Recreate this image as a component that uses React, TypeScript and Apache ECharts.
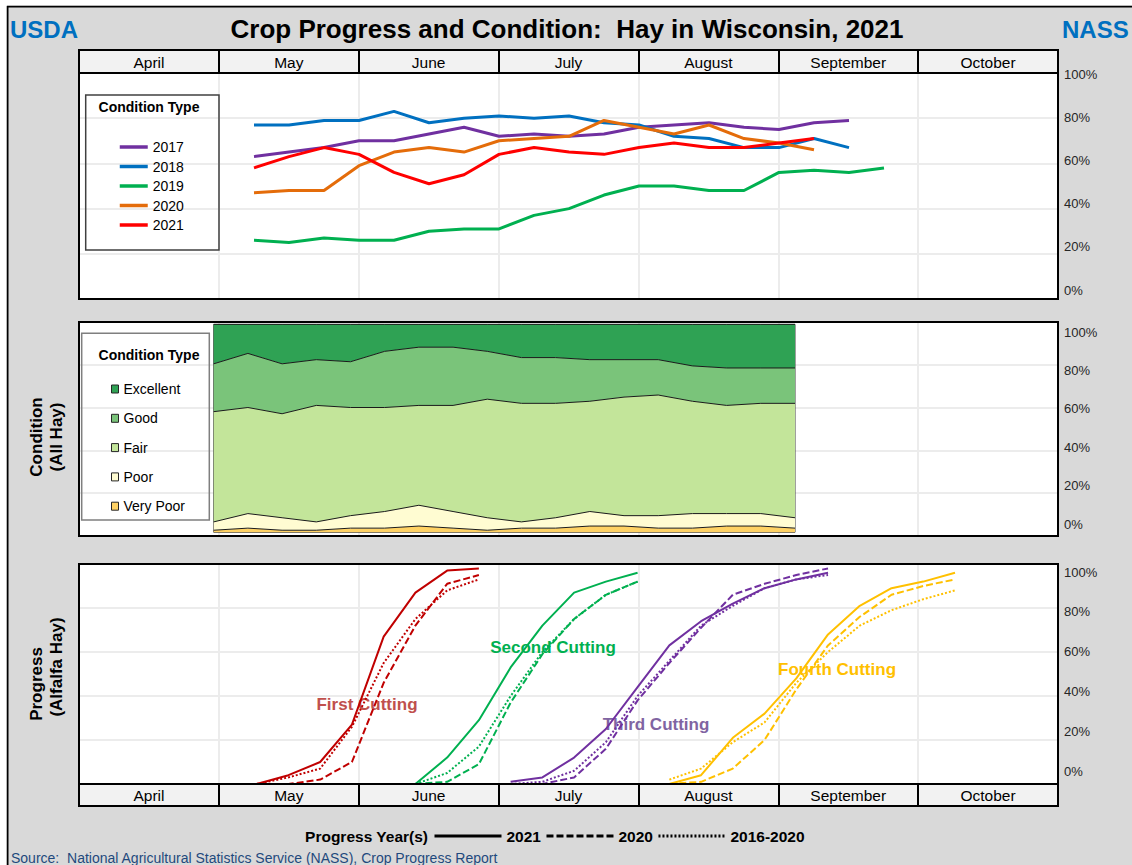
import React, { useEffect, useRef } from 'react';
import * as echarts from 'echarts';

const FONT = "'Liberation Sans', Arial, Helvetica, sans-serif";

const months = ['April', 'May', 'June', 'July', 'August', 'September', 'October'];

// ---- Top panel: condition (good + excellent) by year ----
const conditionWeeks = ['May 9', 'May 16', 'May 23', 'May 30', 'Jun 6', 'Jun 13', 'Jun 20', 'Jun 27', 'Jul 4', 'Jul 11', 'Jul 18', 'Jul 25', 'Aug 1', 'Aug 8', 'Aug 15', 'Aug 22', 'Aug 29', 'Sep 5', 'Sep 12'];
const conditionYears = ['2017', '2018', '2019', '2020', '2021'];
const condition2017 = [63, 65, 67, 70, 70, 73, 76, 72, 73, 72, 73, 76, 77, 78, 76, 75, 78, 79];
const condition2018 = [77, 77, 79, 79, 83, 78, 80, 81, 80, 81, 78, 77, 72, 71, 67, 67, 71, 67];
const condition2019 = [26, 25, 27, 26, 26, 30, 31, 31, 37, 40, 46, 50, 50, 48, 48, 56, 57, 56, 58];
const condition2020 = [47, 48, 48, 59, 65, 67, 65, 70, 71, 72, 79, 76, 73, 77, 71, 69, 66];
const condition2021 = [58, 63, 67, 64, 56, 51, 55, 64, 67, 65, 64, 67, 69, 67, 67, 69, 71];
const conditionColors = ['#7030a0', '#0070c0', '#00b050', '#e46c0a', '#ff0000'];

// ---- Middle panel: 2021 condition distribution (All Hay) ----
const hayWeeks = ['May 9', 'May 16', 'May 23', 'May 30', 'Jun 6', 'Jun 13', 'Jun 20', 'Jun 27', 'Jul 4', 'Jul 11', 'Jul 18', 'Jul 25', 'Aug 1', 'Aug 8', 'Aug 15', 'Aug 22', 'Aug 29', 'Sep 5'];
const conditionTypes = ['Excellent', 'Good', 'Fair', 'Poor', 'Very Poor'];
const veryPoor = [1, 2, 1, 1, 2, 2, 3, 2, 1, 2, 2, 3, 3, 2, 2, 3, 3, 2];
const poor = [4, 7, 6, 4, 6, 8, 10, 8, 6, 3, 5, 7, 5, 6, 7, 6, 6, 5];
const fair = [53, 51, 50, 56, 52, 50, 48, 51, 57, 57, 55, 53, 57, 58, 54, 52, 53, 55];
const good = [23, 26, 24, 22, 22, 27, 28, 28, 23, 22, 22, 20, 18, 17, 17, 18, 17, 17];
const excellent = [19, 14, 19, 17, 18, 13, 11, 11, 13, 16, 16, 17, 17, 17, 20, 21, 21, 21];
const conditionTypeColors = ['#2fa254', '#7ac47a', '#c3e59a', '#fffcd2', '#ffd264'];

// ---- Bottom panel: alfalfa cutting progress ----
const progressWeeks = ['May 9', 'May 16', 'May 23', 'May 30', 'Jun 6', 'Jun 13', 'Jun 20', 'Jun 27', 'Jul 4', 'Jul 11', 'Jul 18', 'Jul 25', 'Aug 1', 'Aug 8', 'Aug 15', 'Aug 22', 'Aug 29', 'Sep 5', 'Sep 12', 'Sep 19', 'Sep 26', 'Oct 3', 'Oct 10'];
const cuttingNames = ['First Cutting', 'Second Cutting', 'Third Cutting', 'Fourth Cutting'];
const cuttingStartWeeks = ['May 9', 'Jun 13', 'Jul 4', 'Aug 8'];
const cuttingColors = ['#c00000', '#00b050', '#7030a0', '#ffc000'];
const cuttingLabelColors = ['#c0504d', '#00b050', '#8064a2', '#ffc000'];
const first2021 = [0, 4, 10, 27, 67, 87, 97, 98];
const first2020 = [0, 0, 2, 10, 46, 72, 91, 95];
const firstAvg = [0, 3, 7, 26, 55, 75, 88, 93];
const second2021 = [0, 12, 29, 53, 72, 87, 92, 96];
const second2020 = [0, 1, 9, 37, 59, 75, 86, 92];
const secondAvg = [0, 5, 17, 40, 60, 75, 86, 92];
const third2021 = [1, 3, 12, 25, 44, 63, 74, 82, 89, 93, 96];
const third2020 = [0, 0, 3, 16, 38, 55, 71, 86, 91, 95, 98];
const thirdAvg = [0, 1, 6, 19, 40, 56, 72, 81, 89, 93, 95];
const fourth2021 = [0, 4, 21, 32, 48, 68, 81, 89, 92, 96];
const fourth2020 = [0, 1, 7, 20, 43, 63, 76, 86, 90, 93];
const fourthAvg = [2, 7, 19, 28, 46, 60, 72, 79, 84, 88];
const progressYears = ['2021', '2020', '2016-2020'];

function buildOption(): any {
  const conditionSeriesData = [condition2017, condition2018, condition2019, condition2020, condition2021];
  const areaData = [excellent, good, fair, poor, veryPoor];
  const progressTable = [
    [first2021, first2020, firstAvg],
    [second2021, second2020, secondAvg],
    [third2021, third2020, thirdAvg],
    [fourth2021, fourth2020, fourthAvg],
  ];
  const dashTypes: any[] = ['solid', [7, 3], [2, 2]];

  const pad = (start: string, values: number[]) => {
    const i0 = progressWeeks.indexOf(start);
    const arr: (number | null)[] = progressWeeks.map(() => null);
    values.forEach((v, k) => { arr[i0 + k] = v; });
    return arr;
  };

  const gridLine = { show: true, interval: 0, lineStyle: { color: '#ececec', width: 2 } };

  const monthAxis = (gi: number, labels: false | 'top' | 'bottom') => ({
    type: 'category', gridIndex: gi, data: months, boundaryGap: true,
    position: labels === 'top' ? 'top' : 'bottom',
    axisLine: { show: false }, axisTick: { show: false },
    axisLabel: { show: !!labels, interval: 0, margin: 3, fontSize: 15.5, color: '#000', fontFamily: FONT },
    splitLine: gridLine,
  });
  const headerAxis = (gi: number) => ({
    type: 'category', gridIndex: gi, data: months, boundaryGap: true,
    axisLine: { show: false }, axisTick: { show: false }, axisLabel: { show: false },
    splitLine: { show: true, interval: 0, lineStyle: { color: '#000', width: 2 } },
  });
  const gridY = (gi: number) => ({
    type: 'value', gridIndex: gi, min: 0, max: 100, interval: 20,
    axisLine: { show: false }, axisTick: { show: false }, axisLabel: { show: false },
    splitLine: { show: true, lineStyle: { color: '#ececec', width: 2 } },
  });
  const labelY = (gi: number) => ({
    type: 'value', gridIndex: gi, min: 0, max: 100, interval: 20, position: 'right',
    axisLine: { show: false }, axisTick: { show: false }, splitLine: { show: false },
    axisLabel: { formatter: '{value}%', margin: 6, fontSize: 13, color: '#262626', fontFamily: FONT },
  });
  const hiddenY = (gi: number) => ({ type: 'value', gridIndex: gi, min: 0, max: 100, show: false });
  const hiddenX = (gi: number) => ({ type: 'value', gridIndex: gi, show: false });

  const grid = [
    { left: 79, top: 73, width: 979, height: 226, show: true, backgroundColor: '#ffffff', borderWidth: 0 },
    { left: 79, top: 50, width: 979, height: 23, show: true, backgroundColor: '#f2f2f2', borderWidth: 0 },
    { left: 254, top: 73, width: 630, height: 226 },
    { left: 79, top: 74, width: 979, height: 216 },
    { left: 79, top: 322, width: 979, height: 214, show: true, backgroundColor: '#ffffff', borderWidth: 0 },
    { left: 213.7, top: 324.3, width: 581.3, height: 208, show: true, borderColor: '#404040', borderWidth: 1, backgroundColor: 'transparent', z: 3 },
    { left: 79, top: 332, width: 979, height: 192 },
    { left: 79, top: 564, width: 979, height: 220, show: true, backgroundColor: '#ffffff', borderWidth: 0 },
    { left: 79, top: 784, width: 979, height: 22, show: true, backgroundColor: '#f2f2f2', borderWidth: 0 },
    { left: 256.7, top: 564, width: 698.3, height: 220 },
    { left: 79, top: 572, width: 979, height: 199 },
  ];

  const xAxis = [
    monthAxis(0, 'top'),
    headerAxis(1),
    { type: 'category', gridIndex: 2, data: conditionWeeks, boundaryGap: false, show: false },
    hiddenX(3),
    monthAxis(4, false),
    { type: 'category', gridIndex: 5, data: hayWeeks, boundaryGap: false, show: false },
    hiddenX(6),
    monthAxis(7, 'bottom'),
    headerAxis(8),
    { type: 'category', gridIndex: 9, data: progressWeeks, boundaryGap: false, show: false },
    hiddenX(10),
  ];
  const yAxis = [
    gridY(0), { type: 'value', gridIndex: 1, show: false }, hiddenY(2), labelY(3),
    gridY(4), hiddenY(5), labelY(6),
    gridY(7), { type: 'value', gridIndex: 8, show: false }, hiddenY(9), labelY(10),
  ];

  const series: any[] = [];
  conditionYears.forEach((y, i) => {
    series.push({
      name: y, type: 'line', xAxisIndex: 2, yAxisIndex: 2, data: conditionSeriesData[i],
      symbol: 'none', color: conditionColors[i], lineStyle: { width: 3, color: conditionColors[i] },
    });
  });
  // stacked areas bottom-up: Very Poor, Poor, Fair, Good, Excellent
  for (let i = conditionTypes.length - 1; i >= 0; i--) {
    series.push({
      name: conditionTypes[i], type: 'line', stack: 'condition', xAxisIndex: 5, yAxisIndex: 5,
      data: areaData[i], symbol: 'none', color: conditionTypeColors[i],
      lineStyle: { color: '#1a1a1a', width: 1 },
      areaStyle: { color: conditionTypeColors[i], opacity: 1 },
    });
  }
  cuttingNames.forEach((c, ci) => {
    progressYears.forEach((py, pi) => {
      series.push({
        name: `${c} ${py}`, type: 'line', xAxisIndex: 9, yAxisIndex: 9,
        data: pad(cuttingStartWeeks[ci], progressTable[ci][pi]), symbol: 'none',
        color: cuttingColors[ci],
        lineStyle: { width: 2, color: cuttingColors[ci], type: dashTypes[pi] },
      });
    });
  });
  progressYears.forEach((py, pi) => {
    series.push({
      name: `Progress ${py}`, type: 'line', xAxisIndex: 9, yAxisIndex: 9, data: [],
      symbol: 'none', color: '#000', lineStyle: { width: 3, color: '#000', type: dashTypes[pi] },
    });
  });

  const legend = [
    {
      data: conditionYears, orient: 'vertical', left: 118, top: 139, padding: 0,
      itemWidth: 28, itemHeight: 14, itemGap: 3.5, selectedMode: false,
      itemStyle: { opacity: 0 }, lineStyle: { width: 3.5 },
      textStyle: { fontFamily: FONT, fontSize: 14, color: '#000', lineHeight: 16 },
    },
    {
      data: conditionTypes, orient: 'vertical', left: 111, top: 381, padding: 0,
      icon: 'rect', itemWidth: 7, itemHeight: 8, itemGap: 13.3, selectedMode: false,
      itemStyle: { borderColor: '#262626', borderWidth: 1 },
      textStyle: { fontFamily: FONT, fontSize: 14, color: '#000', lineHeight: 16 },
    },
    {
      data: progressYears.map((p) => `Progress ${p}`), orient: 'horizontal', left: 433, top: 828, padding: 0,
      itemWidth: 67, itemHeight: 14, itemGap: 4, selectedMode: false,
      formatter: (n: string) => n.replace('Progress ', ''),
      itemStyle: { opacity: 0 }, lineStyle: { width: 3 },
      textStyle: { fontFamily: FONT, fontSize: 15.5, fontWeight: 'bold', color: '#000', lineHeight: 16 },
    },
  ];

  const txt = (text: string, x: number, y: number, font: string, fill: string, align = 'center', extra: any = {}) => ({
    type: 'text', x, y, z: 60, ...extra,
    style: { text, font, fill, align, verticalAlign: 'middle' },
  });
  const frame = (x: number, y: number, w: number, h: number) => ({
    type: 'rect', z: 50, shape: { x, y, width: w, height: h },
    style: { fill: 'none', stroke: '#000', lineWidth: 2 },
  });
  const hline = (x1: number, y1: number, x2: number, y2: number) => ({
    type: 'line', z: 50, shape: { x1, y1, x2, y2 }, style: { stroke: '#000', lineWidth: 2 },
  });

  const graphic = [
    { type: 'rect', z: 100, shape: { x: 0, y: 0, width: 1132, height: 5.5 }, style: { fill: '#fff' } },
    { type: 'rect', z: 100, shape: { x: 0, y: 0, width: 6.5, height: 865 }, style: { fill: '#fff' } },
    hline(7, 6.5, 1132, 6.5),
    hline(7.5, 6, 7.5, 865),
    txt('Crop Progress and Condition:  Hay in Wisconsin, 2021', 567, 29, `bold 26px ${FONT}`, '#000'),
    txt('USDA', 10, 29, `bold 24px ${FONT}`, '#0070c0', 'left'),
    txt('NASS', 1062, 29, `bold 24px ${FONT}`, '#0070c0', 'left'),
    frame(79, 50, 979, 249), hline(79, 73, 1058, 73),
    frame(79, 322, 979, 214),
    frame(79, 564, 979, 242), hline(79, 784, 1058, 784),
    { type: 'rect', z: 3, shape: { x: 85.7, y: 95, width: 133.3, height: 155 }, style: { fill: 'none', stroke: '#404040', lineWidth: 1.5 } },
    txt('Condition Type', 149, 107, `bold 14px ${FONT}`, '#000'),
    { type: 'rect', z: 3, shape: { x: 81.7, y: 333.3, width: 127.6, height: 186.7 }, style: { fill: 'none', stroke: '#7f7f7f', lineWidth: 1.5 } },
    txt('Condition Type', 149, 355, `bold 14px ${FONT}`, '#000'),
    txt('Condition', 36.5, 437, `bold 17px ${FONT}`, '#000', 'center', { rotation: Math.PI / 2 }),
    txt('(All Hay)', 56, 437, `bold 17px ${FONT}`, '#000', 'center', { rotation: Math.PI / 2 }),
    txt('Progress', 36.5, 684, `bold 17px ${FONT}`, '#000', 'center', { rotation: Math.PI / 2 }),
    txt('(Alfalfa Hay)', 56, 667, `bold 17px ${FONT}`, '#000', 'center', { rotation: Math.PI / 2 }),
    txt(cuttingNames[0], 367, 704, `bold 17px ${FONT}`, cuttingLabelColors[0], 'center', { z: 1 }),
    txt(cuttingNames[1], 553, 647, `bold 17px ${FONT}`, cuttingLabelColors[1], 'center', { z: 1 }),
    txt(cuttingNames[2], 656, 724, `bold 17px ${FONT}`, cuttingLabelColors[2], 'center', { z: 1 }),
    txt(cuttingNames[3], 837, 669, `bold 17px ${FONT}`, cuttingLabelColors[3], 'center', { z: 1 }),
    txt('Progress Year(s)', 428, 836, `bold 15.5px ${FONT}`, '#000', 'right'),
    txt('Source:  National Agricultural Statistics Service (NASS), Crop Progress Report', 11, 858, `14px ${FONT}`, '#1f497d', 'left'),
  ];

  return {
    animation: false,
    backgroundColor: '#d9d9d9',
    textStyle: { fontFamily: FONT },
    grid, xAxis, yAxis, series, legend, graphic,
  };
}

export default function App() {
  const ref = useRef<HTMLDivElement>(null);
  useEffect(() => {
    if (!ref.current) return;
    const chart = echarts.init(ref.current, null, { renderer: 'svg' });
    chart.setOption(buildOption());
    return () => chart.dispose();
  }, []);
  return <div ref={ref} style={{ position: 'absolute', left: 0, top: 0, width: 1132, height: 865 }} />;
}
